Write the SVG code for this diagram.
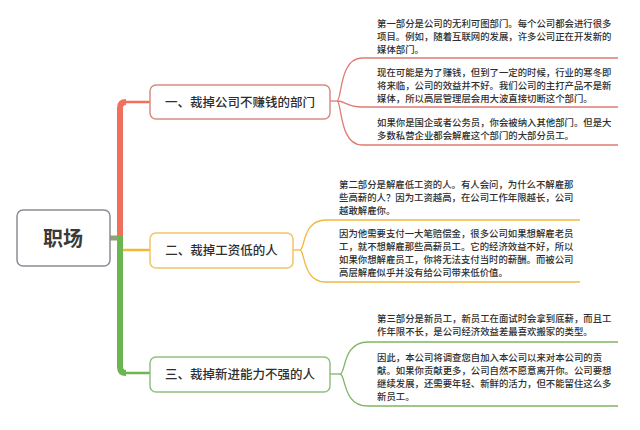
<svg xmlns="http://www.w3.org/2000/svg" width="640" height="430" viewBox="0 0 640 430">
<style>
.t{font-family:"Noto Sans CJK SC","Noto Sans",sans-serif;font-size:9.4px;font-weight:500;fill:#2e2e2e}
.lbl{font-family:"Noto Sans CJK SC","Noto Sans",sans-serif;font-size:12.5px;font-weight:500;fill:#2e2e2e;text-anchor:middle}
.root{font-family:"Noto Sans CJK SC","Noto Sans",sans-serif;font-size:20px;font-weight:bold;fill:#3a3a3a;text-anchor:middle}
.box{fill:#fff;stroke-width:1.5}
.ln{fill:none;stroke-width:1.3}
</style>
<rect width="640" height="430" fill="#fff"/>
<g id="connectors" fill="none" stroke-linecap="butt">
  <path d="M110,238 H121" stroke="#8fa37a" stroke-width="5"/>
  <path d="M120,240 V108 Q120,102 126,102" stroke="#f0705d" stroke-width="6"/>
  <path d="M124,102 H150" stroke="#f0705d" stroke-width="2.5"/>
  <path d="M120,236 V367 Q120,373 126,373" stroke="#6bb552" stroke-width="6"/>
  <path d="M124,373 H150" stroke="#6bb552" stroke-width="2.5"/>
  <path d="M123,250 H150" stroke="#f4b637" stroke-width="2.5"/>
  <g class="ln" stroke="#de7c72">
    <path d="M330,101 H337"/>
    <path d="M337,101 C342,101 339,58 362,58 H618"/>
    <path d="M337,101 C346,101 346,107 362,107 H618"/>
    <path d="M337,101 C342,101 339,145 362,145 H618"/>
  </g>
  <g class="ln" stroke="#efb940">
    <path d="M293,250 H300"/>
    <path d="M300,250 C305,250 302,220 326,220 H580"/>
    <path d="M300,250 C305,250 302,282 326,282 H580"/>
  </g>
  <g class="ln" stroke="#7fb565">
    <path d="M330,374 H340"/>
    <path d="M340,374 C346,374 342,342 368,342 H618"/>
    <path d="M340,374 C346,374 342,406 368,406 H618"/>
  </g>
</g>
<g id="root">
  <rect class="box" x="17" y="210" width="93" height="56" rx="6" stroke="#8a8d94"/>
  <text class="root" x="63" y="245.5">职场</text>
</g>
<g id="n1">
  <rect class="box" x="150" y="85" width="180" height="34" rx="6" stroke="#d98c84"/>
  <text class="lbl" x="240" y="106.5">一、裁掉公司不赚钱的部门</text>
</g>
<g id="n2">
  <rect class="box" x="150" y="233" width="143" height="35" rx="6" stroke="#f0c565"/>
  <text class="lbl" x="221.5" y="254.5">二、裁掉工资低的人</text>
</g>
<g id="n3">
  <rect class="box" x="150" y="357" width="180" height="35" rx="6" stroke="#93bf80"/>
  <text class="lbl" x="240" y="378.5">三、裁掉新进能力不强的人</text>
</g>
<g id="n1a">
  <text class="t" x="377" y="26.5">第一部分是公司的无利可图部门。每个公司都会进行很多</text>
  <text class="t" x="377" y="39.5">项目。例如，随着互联网的发展，许多公司正在开发新的</text>
  <text class="t" x="377" y="52.5">媒体部门。</text>
</g>
<g id="n1b">
  <text class="t" x="377" y="75.5">现在可能是为了赚钱，但到了一定的时候，行业的寒冬即</text>
  <text class="t" x="377" y="88.5">将来临，公司的效益并不好。我们公司的主打产品不是新</text>
  <text class="t" x="377" y="101.5">媒体，所以高层管理层会用大波直接切断这个部门。</text>
</g>
<g id="n1c">
  <text class="t" x="377" y="125.5">如果你是国企或者公务员，你会被纳入其他部门。但是大</text>
  <text class="t" x="377" y="138.5">多数私营企业都会解雇这个部门的大部分员工。</text>
</g>
<g id="n2a">
  <text class="t" x="339" y="187.5">第二部分是解雇低工资的人。有人会问，为什么不解雇那</text>
  <text class="t" x="339" y="200.5">些高薪的人？因为工资越高，在公司工作年限越长，公司</text>
  <text class="t" x="339" y="213.5">越敢解雇你。</text>
</g>
<g id="n2b">
  <text class="t" x="339" y="236.5">因为他需要支付一大笔赔偿金，很多公司如果想解雇老员</text>
  <text class="t" x="339" y="249.5">工，就不想解雇那些高薪员工。它的经济效益不好，所以</text>
  <text class="t" x="339" y="262.5">如果你想解雇员工，你将无法支付当时的薪酬。而被公司</text>
  <text class="t" x="339" y="275.5">高层解雇似乎并没有给公司带来低价值。</text>
</g>
<g id="n3a">
  <text class="t" x="377" y="321.5">第三部分是新员工，新员工在面试时会拿到底薪，而且工</text>
  <text class="t" x="377" y="334.5">作年限不长，是公司经济效益差最喜欢搬家的类型。</text>
</g>
<g id="n3b">
  <text class="t" x="377" y="360.5">因此，本公司将调查您自加入本公司以来对本公司的贡</text>
  <text class="t" x="377" y="373.5">献。如果你贡献更多，公司自然不愿意离开你。公司要想</text>
  <text class="t" x="377" y="386.5">继续发展，还需要年轻、新鲜的活力，但不能留住这么多</text>
  <text class="t" x="377" y="399.5">新员工。</text>
</g>
</svg>
